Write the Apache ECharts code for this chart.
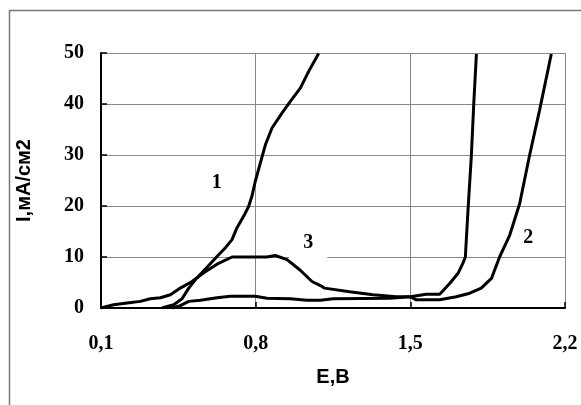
<!DOCTYPE html>
<html style="height: 100%">
<head>
    <meta charset="utf-8">
</head>
<body style="height: 100%; margin: 0; background: #fff">
<div id="main" style="width: 581px; height: 405px;"></div>

<script type="text/javascript" src="https://cdn.jsdelivr.net/npm/echarts@6/dist/echarts.min.js"></script>
<script type="text/javascript">

    // кривая 1
    const curve1E = [0.376, 0.429, 0.467, 0.497, 0.534, 0.58, 0.625, 0.663, 0.693, 0.715, 0.753, 0.768, 0.783, 0.798, 0.821, 0.844, 0.874, 0.919, 0.957, 1.002, 1.04, 1.085];
    const curve1I = [0, 0.65, 1.8, 3.9, 5.9, 8.0, 10.1, 11.8, 13.4, 15.7, 18.6, 19.9, 21.9, 24.8, 28.4, 32, 35.3, 38.2, 40.5, 43.1, 46.4, 49.9];

    // кривая 2
    const curve2E = [0.421, 0.459, 0.497, 0.55, 0.625, 0.685, 0.798, 0.851, 0.957, 1.032, 1.093, 1.15, 1.406, 1.5, 1.527, 1.633, 1.708, 1.769, 1.821, 1.867, 1.904, 1.95, 1.995, 2.04, 2.085, 2.138];
    const curve2I = [0, 0.46, 1.3, 1.5, 2.0, 2.3, 2.3, 1.9, 1.8, 1.5, 1.5, 1.8, 1.9, 2.2, 1.6, 1.6, 2.2, 2.9, 3.9, 5.8, 10, 14.3, 20.5, 30, 38.8, 49.8];

    // кривая 3
    const curve3E = [0.1, 0.157, 0.218, 0.278, 0.323, 0.369, 0.414, 0.459, 0.512, 0.565, 0.625, 0.693, 0.851, 0.889, 0.942, 1.002, 1.055, 1.093, 1.112, 1.225, 1.331, 1.437, 1.5, 1.572, 1.633, 1.678, 1.716, 1.738, 1.749, 1.761, 1.776, 1.787, 1.799];
    const curve3I = [0, 0.65, 1.0, 1.3, 1.8, 2.0, 2.6, 3.9, 5.2, 6.9, 8.6, 10, 10, 10.3, 9.5, 7.4, 5.2, 4.4, 3.9, 3.2, 2.6, 2.2, 2.2, 2.7, 2.7, 4.8, 6.8, 8.8, 10, 19.2, 29.7, 40, 49.8];

    // подписи кривых
    const labelText = ['1', '3', '2'];
    const labelE = [0.624, 1.038, 2.034];
    const labelI = [24.5, 12.7, 13.7];

    function pairs(xs, ys) {
        let res = [];
        for (let i = 0; i < xs.length; i++) {
            res.push([xs[i], ys[i]]);
        }
        return res;
    }

    function curve(name, xs, ys) {
        return {
            name: name,
            type: 'line',
            z: 3,
            showSymbol: false,
            smooth: false,
            animation: false,
            lineStyle: { color: '#000', width: 3 },
            data: pairs(xs, ys)
        };
    }

    let labelData = [];
    for (let i = 0; i < labelText.length; i++) {
        labelData.push({ value: [labelE[i], labelI[i]], name: labelText[i] });
    }

    const serifFont = { fontFamily: 'Liberation Serif', fontWeight: 'bold', fontSize: 20, color: '#000' };
    const sansFont = { fontFamily: 'Liberation Sans', fontWeight: 'bold', fontSize: 20, color: '#000' };

    let chart = echarts.init(document.getElementById('main'));

    let option = {
        backgroundColor: '#fff',
        animation: false,
        graphic: [{
            type: 'rect',
            shape: { x: 9.5, y: 10.5, width: 620, height: 420 },
            style: { fill: 'none', stroke: '#777', lineWidth: 1.5 },
            z: -1
        }],
        grid: {
            left: 101,
            right: 16,
            top: 53,
            bottom: 97
        },
        xAxis: {
            type: 'value',
            min: 0.1,
            max: 2.2,
            interval: 0.7,
            name: 'E,B',
            nameLocation: 'middle',
            nameGap: 59,
            nameTextStyle: sansFont,
            axisLine: { lineStyle: { color: '#000', width: 2 } },
            axisTick: { show: true, inside: true, length: 6, lineStyle: { color: '#000', width: 1.5 } },
            axisLabel: Object.assign({
                margin: 26,
                formatter: function (v) {
                    return v.toFixed(1).replace('.', ',');
                }
            }, serifFont),
            splitLine: { show: true, lineStyle: { color: '#888', width: 1 } }
        },
        yAxis: {
            type: 'value',
            min: 0,
            max: 50,
            interval: 10,
            name: 'I,мА/см2',
            nameLocation: 'middle',
            nameRotate: 90,
            nameGap: 67,
            nameTextStyle: sansFont,
            axisLine: { show: true, lineStyle: { color: '#000', width: 2 } },
            axisTick: { show: true, inside: true, length: 6, lineStyle: { color: '#000', width: 1.5 } },
            axisLabel: Object.assign({ margin: 17 }, serifFont),
            splitLine: { show: true, lineStyle: { color: '#888', width: 1 } }
        },
        series: [
            curve('1', curve1E, curve1I),
            curve('2', curve2E, curve2I),
            curve('3', curve3E, curve3I),
            {
                name: 'labels',
                type: 'scatter',
                z: 1,
                symbolSize: 0,
                silent: true,
                itemStyle: { color: '#000', opacity: 1 },
                label: Object.assign({
                    show: true,
                    position: 'inside',
                    opacity: 1,
                    formatter: function (p) { return p.name; },
                    backgroundColor: '#fff',
                    padding: [4, 14, 8, 14]
                }, serifFont),
                data: labelData
            }
        ]
    };

    chart.setOption(option, true);

</script>
</body>
</html>
